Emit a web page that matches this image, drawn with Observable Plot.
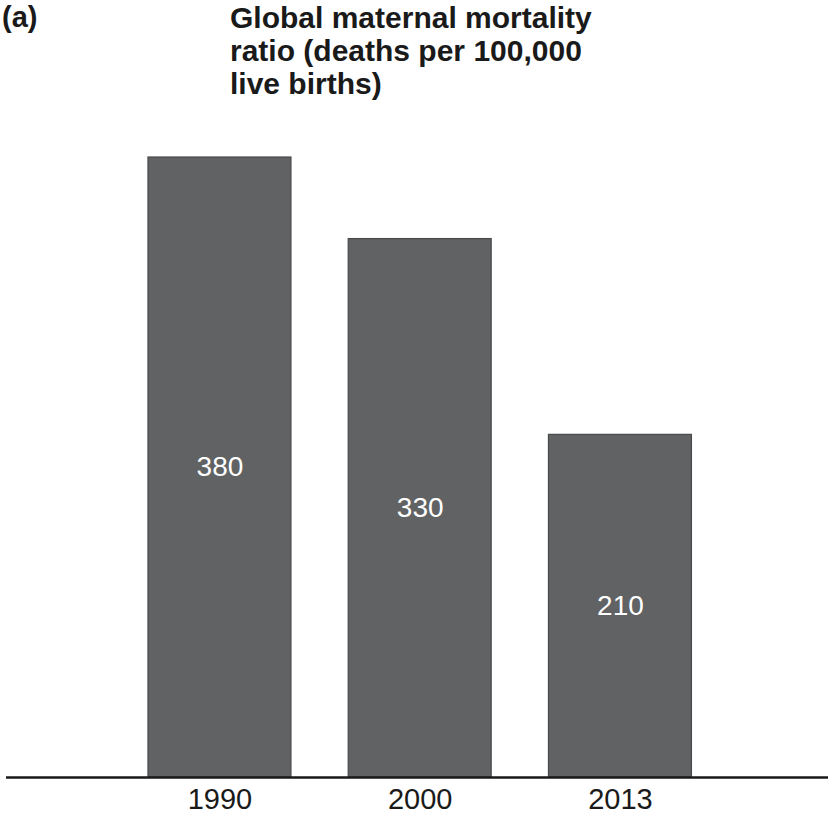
<!DOCTYPE html>
<html>
<head>
<meta charset="utf-8">
<script src="https://cdn.jsdelivr.net/npm/d3@7"></script>
<script src="https://cdn.jsdelivr.net/npm/@observablehq/plot@0.6"></script>
<style>
  html, body { margin: 0; padding: 0; background: #fff; }
  #wrap { width: 830px; position: relative; font-family: "Liberation Sans", Arial, Helvetica, sans-serif; }
  #head { position: relative; height: 120px; }
  #panel { position: absolute; left: 2px; top: 1px; font-weight: bold; font-size: 29px; line-height: 33px; color: #1a1a1a; }
  #title { position: absolute; left: 230px; top: 1px; font-weight: bold; font-size: 30px; line-height: 33px; color: #1a1a1a; white-space: nowrap; }
  svg { display: block; }
</style>
</head>
<body>
<div id="wrap">
  <div id="head">
    <div id="panel">(a)</div>
    <div id="title">Global maternal mortality<br>ratio (deaths per 100,000<br>live births)</div>
  </div>
  <div id="chart"></div>
</div>
<script>
const years = ["1990", "2000", "2013"];
const ratios = [380, 330, 210];
const data = years.map((year, i) => ({year, value: ratios[i]}));

const chart = Plot.plot({
  width: 830,
  height: 694,
  marginTop: 37,
  marginBottom: 37,
  marginLeft: 6,
  marginRight: 2,
  style: {fontFamily: "'Liberation Sans', Arial, Helvetica, sans-serif", background: "#fff"},
  x: {type: "band", domain: years, range: [87.9, 751.5], paddingInner: 0.286, paddingOuter: 0.3, round: false},
  y: {domain: [0, 380], axis: null},
  marks: [
    Plot.barY(data, {x: "year", y: "value", fill: "#616264", stroke: "#48494b", strokeWidth: 1.2}),
    Plot.text(data, {x: "year", y: d => d.value / 2, text: d => String(d.value), fill: "#ffffff", fontSize: 28}),
    Plot.ruleY([0], {stroke: "#1a1a1a", strokeWidth: 2.5}),
    Plot.axisX({tickSize: 0, tickPadding: 11, fontSize: 29, fill: "#1a1a1a", label: null})
  ]
});
document.getElementById("chart").appendChild(chart);
</script>
</body>
</html>
